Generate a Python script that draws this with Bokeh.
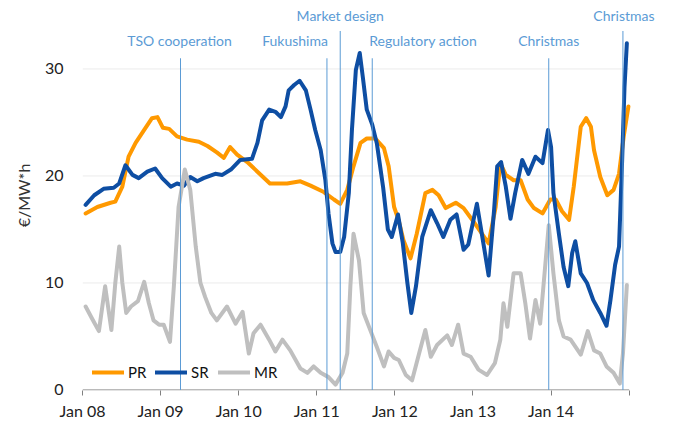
from bokeh.plotting import figure
from bokeh.models import Range1d, Label, Legend, LegendItem, FixedTicker, Title
from bokeh.embed import file_html
from bokeh.resources import INLINE

# ---- data (time in years since Jan 2008) ----
base_year = 2008
year_ticks = [2008, 2009, 2010, 2011, 2012, 2013, 2014, 2015]
tick_labels = ["Jan 08", "Jan 09", "Jan 10", "Jan 11", "Jan 12", "Jan 13", "Jan 14", ""]
y_ticks = [0, 10, 20, 30]
y_title = "€/MW*h"

pr_t = [0.04, 0.19, 0.36, 0.42, 0.51, 0.59, 0.68, 0.79, 0.89, 0.96,
        1.03, 1.11, 1.21, 1.34, 1.49, 1.60, 1.72, 1.81, 1.89, 1.98,
        2.11, 2.24, 2.40, 2.62, 2.79, 2.92, 3.09, 3.22, 3.30, 3.39,
        3.47, 3.56, 3.64, 3.75, 3.86, 3.92, 3.99, 4.05, 4.11, 4.20,
        4.28, 4.39, 4.48, 4.56, 4.65, 4.78, 4.88, 5.01, 5.20, 5.29,
        5.35, 5.42, 5.52, 5.61, 5.70, 5.78, 5.89, 5.99, 6.06, 6.14,
        6.23, 6.29, 6.38, 6.45, 6.51, 6.55, 6.63, 6.72, 6.80, 6.87,
        6.93, 6.99]
pr_v = [16.5, 17.1, 17.5, 17.6, 19.0, 21.8, 23.1, 24.3, 25.4, 25.5,
        24.5, 24.4, 23.7, 23.4, 23.2, 22.8, 22.2, 21.7, 22.7, 22.0,
        21.3, 20.4, 19.3, 19.3, 19.5, 19.1, 18.5, 17.8, 17.4, 18.7,
        20.9, 23.1, 23.5, 23.5, 22.6, 20.9, 17.1, 15.8, 14.0, 12.3,
        14.6, 18.4, 18.7, 18.2, 17.0, 17.5, 17.0, 15.7, 13.7, 17.1,
        21.2, 20.1, 19.6, 19.6, 17.8, 17.0, 16.5, 17.8, 17.8, 16.7,
        15.9, 19.0, 24.6, 25.4, 24.6, 22.4, 19.9, 18.2, 18.7, 20.2,
        23.7, 26.5]

sr_t = [0.04, 0.15, 0.27, 0.40, 0.47, 0.55, 0.64, 0.72, 0.83, 0.93,
        1.02, 1.13, 1.21, 1.30, 1.38, 1.47, 1.55, 1.70, 1.79, 1.90,
        2.02, 2.17, 2.24, 2.30, 2.39, 2.47, 2.54, 2.60, 2.64, 2.71,
        2.78, 2.86, 2.92, 2.98, 3.05, 3.11, 3.15, 3.20, 3.24, 3.30,
        3.35, 3.41, 3.45, 3.50, 3.55, 3.59, 3.64, 3.71, 3.77, 3.85,
        3.91, 3.96, 4.04, 4.10, 4.16, 4.21, 4.27, 4.35, 4.46, 4.54,
        4.62, 4.71, 4.79, 4.88, 4.94, 5.05, 5.14, 5.20, 5.27, 5.31,
        5.36, 5.42, 5.48, 5.54, 5.63, 5.71, 5.80, 5.89, 5.96, 6.00,
        6.03, 6.10, 6.16, 6.22, 6.27, 6.31, 6.38, 6.46, 6.54, 6.63,
        6.71, 6.76, 6.82, 6.87, 6.91, 6.94, 6.97]
sr_v = [17.3, 18.2, 18.8, 18.9, 19.3, 21.0, 20.1, 19.8, 20.4, 20.7,
        19.8, 19.0, 19.3, 19.1, 19.9, 19.5, 19.8, 20.2, 20.1, 20.6,
        21.5, 21.6, 23.1, 25.2, 26.2, 26.0, 25.5, 26.5, 28.0, 28.5,
        28.9, 28.0, 26.2, 24.3, 22.4, 19.6, 16.5, 13.7, 12.9, 12.9,
        14.3, 18.4, 24.3, 29.9, 31.5, 29.2, 26.2, 24.8, 23.0, 18.9,
        15.0, 14.3, 16.4, 13.8, 10.0, 7.2, 9.7, 14.3, 16.8, 15.6,
        14.3, 15.9, 16.4, 13.1, 13.6, 17.4, 13.4, 10.7, 16.8, 20.9,
        21.3, 19.0, 16.0, 18.4, 21.5, 20.2, 21.8, 21.2, 24.3, 22.7,
        18.4, 14.6, 11.5, 9.7, 12.8, 13.9, 10.9, 10.0, 8.4, 7.2,
        6.0, 8.4, 11.7, 13.4, 21.5, 28.3, 32.4]

mr_t = [0.04, 0.12, 0.21, 0.29, 0.37, 0.42, 0.47, 0.51, 0.56, 0.62,
        0.71, 0.79, 0.85, 0.91, 0.98, 1.04, 1.12, 1.17, 1.23, 1.31,
        1.38, 1.45, 1.51, 1.57, 1.65, 1.72, 1.85, 1.96, 2.05, 2.13,
        2.19, 2.28, 2.39, 2.47, 2.56, 2.66, 2.79, 2.88, 2.96, 3.05,
        3.15, 3.24, 3.33, 3.39, 3.43, 3.47, 3.54, 3.60, 3.69, 3.77,
        3.86, 3.92, 3.99, 4.05, 4.14, 4.22, 4.31, 4.39, 4.46, 4.54,
        4.67, 4.73, 4.81, 4.88, 4.97, 5.07, 5.18, 5.28, 5.35, 5.39,
        5.44, 5.52, 5.61, 5.67, 5.73, 5.80, 5.86, 5.92, 5.97, 6.03,
        6.10, 6.16, 6.25, 6.38, 6.47, 6.55, 6.63, 6.71, 6.80, 6.88,
        6.92, 6.97]
mr_v = [7.8, 6.7, 5.5, 9.7, 5.6, 10.0, 13.4, 10.0, 7.2, 7.8,
        8.3, 10.1, 8.1, 6.5, 6.1, 6.1, 4.5, 9.7, 17.1, 20.6,
        18.7, 13.4, 10.0, 8.7, 7.2, 6.5, 7.8, 6.2, 7.3, 3.4,
        5.3, 6.1, 4.7, 3.6, 4.7, 3.7, 2.0, 1.6, 2.2, 1.6,
        1.2, 0.5, 1.6, 3.4, 9.7, 14.6, 12.1, 7.2, 5.5, 4.0,
        2.2, 3.6, 3.0, 2.8, 1.4, 0.9, 3.4, 5.6, 3.1, 4.2,
        5.1, 4.2, 6.1, 3.4, 3.1, 1.9, 1.4, 2.5, 4.7, 8.1,
        5.9, 10.9, 10.9, 8.1, 4.8, 8.4, 6.2, 11.2, 15.4, 10.9,
        6.5, 5.0, 4.7, 3.3, 5.5, 3.7, 3.4, 2.2, 1.6, 0.6,
        3.4, 9.8]

event_t = [1.255, 3.13, 3.30, 3.71, 5.97, 6.92]
event_names = ["TSO cooperation", "Fukushima", "Market design",
               "Regulatory action", "Christmas", "Christmas"]

# ---- styling (not data) ----
event_high = [False, False, True, False, False, True]
event_align = ["center", "right", "center", "left", "center", "center"]
event_xoff = [-1, 1, 0, -3, 0, 1]
ev_color = "#5B9BD5"
axis_color = "#808080"
font = "Lato"

x_start, x_end = year_ticks[0], year_ticks[-1]

p = figure(width=665, height=423,
           x_range=Range1d(2008, 2015.465), y_range=Range1d(-0.05, 36.40),
           output_backend="svg", toolbar_location=None,
           min_border_left=82, min_border_right=0,
           min_border_top=0, min_border_bottom=33)
p.outline_line_color = None
p.background_fill_color = "white"
p.border_fill_color = "white"

# axes
p.xaxis.ticker = FixedTicker(ticks=year_ticks)
p.xaxis.major_label_overrides = {y: l for y, l in zip(year_ticks, tick_labels)}
p.xaxis.major_tick_out = 5
p.xaxis.major_tick_in = 0
p.xaxis.minor_tick_line_color = None
p.xaxis.axis_line_color = None
p.xaxis.major_tick_line_color = axis_color
p.xaxis.major_label_text_font = font
p.xaxis.major_label_text_font_size = "16px"
p.xaxis.major_label_text_color = "#222222"
p.xaxis.major_label_standoff = 5

p.yaxis.ticker = FixedTicker(ticks=y_ticks)
p.yaxis.axis_line_color = None
p.yaxis.major_tick_line_color = None
p.yaxis.minor_tick_line_color = None
p.yaxis.major_label_text_font = font
p.yaxis.major_label_text_font_size = "16px"
p.yaxis.major_label_text_color = "#222222"
p.yaxis.major_label_standoff = 13

p.add_layout(Title(text=y_title, align="center", offset=-19, standoff=17,
                   text_font=font, text_font_size="16px",
                   text_font_style="normal", text_color="#333333"), "left")

p.xgrid.grid_line_color = None
p.ygrid.grid_line_color = None

# gridlines and axis baseline limited to the labelled period
grid_vals = y_ticks[1:]
p.segment(x0=[x_start] * len(grid_vals), y0=grid_vals, x1=[x_end] * len(grid_vals), y1=grid_vals,
          line_color="#EBEBEB", line_width=1)

def xs(ts):
    return [base_year + t for t in ts]

r_pr = p.line(xs(pr_t), pr_v, line_width=4, color="#FF9900", line_join="round", line_cap="round")
r_sr = p.line(xs(sr_t), sr_v, line_width=4, color="#0E4EA3", line_join="round", line_cap="round")
r_mr = p.line(xs(mr_t), mr_v, line_width=4, color="#BFBFBF", line_join="round", line_cap="round")

p.segment(x0=[x_start], y0=[0], x1=[x_end], y1=[0], line_color=axis_color, line_width=1)

# event lines
ev_x = xs(event_t)
ev_top = [33.55 if h else 31.0 for h in event_high]
p.segment(x0=ev_x, y0=[0] * len(ev_x), x1=ev_x, y1=ev_top, line_color=ev_color, line_width=1)

for x, name, h, al, xo in zip(ev_x, event_names, event_high, event_align, event_xoff):
    p.add_layout(Label(x=x, y=35.0 if h else 32.7, text=name, text_align=al,
                       text_baseline="middle", x_offset=xo,
                       text_font=font, text_font_size="14px", text_color=ev_color))

legend = Legend(items=[LegendItem(label="PR", renderers=[r_pr]),
                       LegendItem(label="SR", renderers=[r_sr]),
                       LegendItem(label="MR", renderers=[r_mr])],
                orientation="horizontal", location=(10, 8),
                glyph_width=32, glyph_height=20, label_standoff=4, spacing=7,
                label_width=20, padding=0, margin=0, border_line_color=None,
                background_fill_alpha=0, label_text_font=font,
                label_text_font_size="15px", label_text_color="#111111")
p.add_layout(legend)

open("out.html", "w").write(file_html(p, INLINE))
